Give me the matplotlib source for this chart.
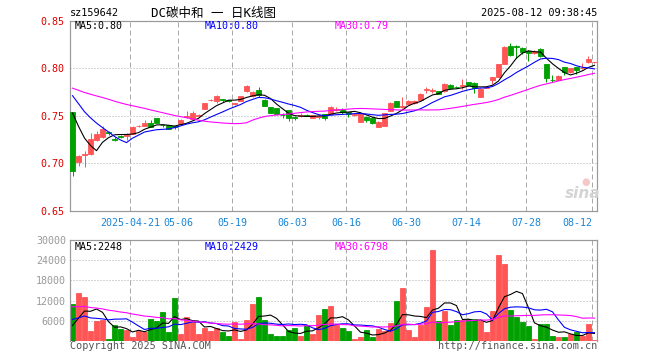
import matplotlib
matplotlib.use('Agg')
import matplotlib.pyplot as plt
import numpy as np
import pandas as pd

plt.rcParams['font.family'] = ['DejaVu Sans Mono', 'Noto Sans CJK SC']

# ---------------- data ----------------
code = 'sz159642'
title = 'DC碳中和 一 日K线图'
timestamp = '2025-08-12 09:38:45'
date_labels = ['2025-04-21', '05-06', '05-19', '06-03', '06-16', '06-30', '07-14', '07-28', '08-12']
date_index = [10, 18, 27, 37, 46, 56, 66, 76, 87]

open_ = [0.754, 0.702, 0.709, 0.710, 0.725, 0.728, 0.7335, 0.7260, 0.7285, 0.7285,
         0.7310, 0.7390, 0.7395, 0.7420, 0.7475, 0.7408, 0.7400, 0.7390, 0.7416, 0.7490,
         0.7465, 0.7500, 0.7574, 0.7663, 0.7651, 0.7672, 0.7662, 0.7628, 0.7660, 0.7756,
         0.7704, 0.7774, 0.7668, 0.7595, 0.7581, 0.7514, 0.7563, 0.7493, 0.7500, 0.7510,
         0.7482, 0.7490, 0.7518, 0.7521, 0.7565, 0.7563, 0.7540, 0.7504, 0.7440, 0.7493,
         0.7482, 0.7388, 0.7398, 0.7553, 0.7651, 0.7590, 0.7623, 0.7633, 0.7668, 0.7770,
         0.7763, 0.7756, 0.7756, 0.7826, 0.7806, 0.7818, 0.7855, 0.7850, 0.7700, 0.7793,
         0.7875, 0.7912, 0.8050, 0.8230, 0.8237, 0.8212, 0.8177, 0.8160, 0.8202, 0.8047,
         0.7882, 0.7879, 0.8012, 0.7956, 0.8012, 0.8000, 0.8061, 0.8065]
close = [0.692, 0.708, 0.710, 0.726, 0.731, 0.736, 0.7325, 0.7250, 0.7275, 0.7310,
         0.7385, 0.7398, 0.7428, 0.7385, 0.7425, 0.7402, 0.7367, 0.7384, 0.7458, 0.7497,
         0.7525, 0.7506, 0.7633, 0.7668, 0.7704, 0.7665, 0.7655, 0.7633, 0.7704, 0.7809,
         0.7749, 0.7714, 0.7605, 0.7535, 0.7518, 0.7505, 0.7475, 0.7478, 0.7510, 0.7502,
         0.7504, 0.7500, 0.7482, 0.7591, 0.7572, 0.7540, 0.7515, 0.7518, 0.7518, 0.7458,
         0.7423, 0.7440, 0.7528, 0.7640, 0.7598, 0.7605, 0.7661, 0.7658, 0.7732, 0.7777,
         0.7770, 0.7730, 0.7830, 0.7791, 0.7802, 0.7824, 0.7822, 0.7788, 0.7785, 0.7808,
         0.7905, 0.8042, 0.8226, 0.8142, 0.8220, 0.8167, 0.8162, 0.8177, 0.8125, 0.7896,
         0.7875, 0.7921, 0.7956, 0.8002, 0.7986, 0.8005, 0.8096, 0.8068]
high = [0.754, 0.709, 0.713, 0.732, 0.734, 0.739, 0.7345, 0.7280, 0.7295, 0.7315,
        0.7390, 0.7405, 0.7458, 0.7460, 0.7478, 0.7410, 0.7402, 0.7395, 0.7462, 0.7553,
        0.7546, 0.7515, 0.7640, 0.7675, 0.7721, 0.7680, 0.7665, 0.7640, 0.7707, 0.7826,
        0.7760, 0.7798, 0.7672, 0.7598, 0.7585, 0.7530, 0.7565, 0.7495, 0.7525, 0.7515,
        0.7508, 0.7510, 0.7520, 0.7600, 0.7590, 0.7580, 0.7545, 0.7522, 0.7525, 0.7498,
        0.7485, 0.7445, 0.7532, 0.7645, 0.7655, 0.7693, 0.7665, 0.7665, 0.7735, 0.7800,
        0.7791, 0.7760, 0.7840, 0.7830, 0.7810, 0.7886, 0.7860, 0.7855, 0.7790, 0.7815,
        0.7910, 0.8045, 0.8230, 0.8265, 0.8240, 0.8220, 0.8195, 0.8190, 0.8212, 0.8050,
        0.7932, 0.7925, 0.8015, 0.8005, 0.8015, 0.8054, 0.8125, 0.8070]
low = [0.687, 0.697, 0.696, 0.709, 0.724, 0.727, 0.7300, 0.7240, 0.7265, 0.7250,
       0.7305, 0.7385, 0.7390, 0.7380, 0.7420, 0.7380, 0.7362, 0.7365, 0.7410, 0.7480,
       0.7460, 0.7490, 0.7570, 0.7655, 0.7633, 0.7650, 0.7645, 0.7610, 0.7651, 0.7750,
       0.7700, 0.7700, 0.7600, 0.7530, 0.7510, 0.7474, 0.7447, 0.7458, 0.7490, 0.7495,
       0.7478, 0.7465, 0.7458, 0.7515, 0.7550, 0.7521, 0.7493, 0.7500, 0.7435, 0.7440,
       0.7418, 0.7380, 0.7395, 0.7550, 0.7594, 0.7585, 0.7620, 0.7625, 0.7665, 0.7745,
       0.7739, 0.7725, 0.7750, 0.7788, 0.7795, 0.7785, 0.7818, 0.7745, 0.7695, 0.7790,
       0.7838, 0.7910, 0.8045, 0.8130, 0.8107, 0.8150, 0.8072, 0.8150, 0.8118, 0.7851,
       0.7861, 0.7875, 0.7925, 0.7950, 0.7944, 0.7995, 0.8055, 0.8060]
volume = [11100, 14400, 13200, 2900, 5900, 6200, 600, 4800, 3500, 3300,
          1200, 3100, 2700, 6500, 5800, 8600, 2600, 12800, 2100, 7100,
          5600, 2000, 4000, 2900, 4000, 2600, 1400, 5600, 600, 6200,
          11000, 13100, 6200, 2000, 1400, 1400, 3200, 3800, 1400, 4700,
          2000, 7700, 9500, 10400, 4700, 3800, 2900, 600, 1100, 3200,
          1100, 3500, 2900, 5300, 11900, 15600, 3200, 1100, 4700, 10100,
          26900, 5900, 8900, 4700, 6200, 6200, 6500, 6500, 5900, 2600,
          8900, 25400, 23000, 9200, 7200, 5600, 4400, 500, 5000, 5000,
          1400, 1100, 1100, 2000, 2600, 1400, 5000, 300]
# sessions before the first visible candle (only feed the moving averages)
prior_close = [0.776, 0.779, 0.781, 0.784, 0.786, 0.788, 0.785, 0.782, 0.780, 0.779,
               0.781, 0.784, 0.787, 0.786, 0.784, 0.782, 0.781, 0.783, 0.785, 0.788,
               0.792, 0.795, 0.790, 0.786, 0.784, 0.778, 0.772, 0.765, 0.758]
prior_volume = [13500, 11000, 12800, 10500, 14000, 12000, 11500, 13000, 9800, 12500,
                11800, 12200, 10900, 13300, 11600, 12400, 10800, 12900, 11700, 12800,
                9500, 7800, 8600, 7200, 7900, 3400, 2700, 3300, 2500]

price_ticks = [0.65, 0.70, 0.75, 0.80, 0.85]
vol_ticks = [6000, 12000, 18000, 24000, 30000]
price_ma_labels = ['0.80', '0.80', '0.79']
vol_ma_labels = ['2248', '2429', '6798']
ma_windows = [5, 10, 30]

# ---------------- styles ----------------
W, H = 660, 360
RED = '#ff5555'
GREEN = '#00a000'
MA_COLORS = ['#000000', '#0000ff', '#ff00ff']
GRID = '#aaaaaa'
FRAME = '#999999'
PX = 72 / 100  # one pixel in points

n = len(close)
x = np.arange(n)
o = np.array(open_); c = np.array(close); h = np.array(high); l = np.array(low)
v = np.array(volume)
up = c >= o
cols = np.where(up, RED, GREEN)

cs = pd.Series(prior_close + close)
vs = pd.Series(prior_volume + volume)
np_ = len(prior_close)
price_ma = [cs.rolling(w).mean().iloc[np_:].to_numpy() for w in ma_windows]
vol_ma = [vs.rolling(w).mean().iloc[np_:].to_numpy() for w in ma_windows]

fig = plt.figure(figsize=(W / 100, H / 100), dpi=100)
fig.patch.set_facecolor('white')

ax = fig.add_axes([70 / W, (H - 211) / H, 527 / W, (211 - 20.7) / H])
axv = fig.add_axes([70 / W, (H - 341) / H, 527 / W, 101 / H])

xlim = (-0.42, n - 1 + 0.42)
tick_pos = [i - 0.42 for i in date_index]

for a in (ax, axv):
    a.set_xlim(*xlim)
    for s in a.spines.values():
        s.set_color(FRAME)
        s.set_linewidth(PX * 1.2)
    a.tick_params(length=0)
    a.vlines(tick_pos, 0, 1, transform=a.get_xaxis_transform(), colors=GRID,
             linewidth=PX, linestyles=(0, (5, 3)), zorder=0)
axv.spines['bottom'].set_visible(False)

# ---- price panel ----
ax.set_ylim(0.65, 0.85)
for yv in price_ticks[1:-1]:
    ax.axhline(yv, color=GRID, linewidth=PX, linestyle=(0, (1, 2)), zorder=0)
ax.vlines(x, l, h, colors=cols, linewidth=PX, zorder=2)
ax.bar(x, np.abs(c - o), bottom=np.minimum(o, c), width=0.72, color=cols,
       edgecolor=cols, linewidth=0.6, zorder=3)
for ma, col in zip(price_ma, MA_COLORS):
    ax.plot(x, ma, color=col, linewidth=PX * 1.1, zorder=4)

ax.set_yticks(price_ticks)
ax.set_yticklabels(['%.2f' % t for t in price_ticks], color='#e00000', fontsize=7.2)
ax.tick_params(axis='y', pad=4)
ax.set_xticks(tick_pos)
ax.set_xticklabels(date_labels, color='#1a85d6', fontsize=7.2)
ax.tick_params(axis='x', pad=5)
ax.get_xticklabels()[-1].set_ha('right')

# ---- volume panel ----
axv.set_ylim(0, 30000)
for yv in vol_ticks[:-1]:
    axv.axhline(yv, color=GRID, linewidth=PX, linestyle=(0, (1, 2)), zorder=0)
axv.bar(x, v, width=0.72, color=cols, edgecolor=cols, linewidth=0.6, zorder=2)
for ma, col in zip(vol_ma, MA_COLORS):
    axv.plot(x, ma, color=col, linewidth=PX * 1.1, zorder=4)
axv.set_yticks(vol_ticks)
axv.set_yticklabels([str(t) for t in vol_ticks], color='#999999', fontsize=7.2)
axv.tick_params(axis='y', pad=3)
axv.set_xticks([])

# ---- texts ----
def ftext(px, py, s, **kw):
    fig.text(px / W, 1 - py / H, s, **kw)

ftext(70, 13, code, fontsize=7.4, color='#000000', va='center', ha='left')
ftext(213.5, 13, title, fontsize=9, color='#000000', va='center', ha='center')
ftext(597, 13, timestamp, fontsize=7.4, color='#000000', va='center', ha='right')

names = ['MA5', 'MA10', 'MA30']
xs = [75, 205, 335]
for nm, lab, col, px in zip(names, price_ma_labels, MA_COLORS, xs):
    ftext(px, 26, '%s:%s' % (nm, lab), fontsize=7.2, color=col, va='center', ha='left')
for nm, lab, col, px in zip(names, vol_ma_labels, MA_COLORS, xs):
    ftext(px, 246.5, '%s:%s' % (nm, lab), fontsize=7.2, color=col, va='center', ha='left')

ftext(70, 346, 'Copyright 2025 SINA.COM', fontsize=7.3, color='#555555', va='center', ha='left')
ftext(597, 346, 'http://finance.sina.com.cn', fontsize=7.3, color='#555555', va='center', ha='right')

# watermark
ftext(583, 194, 'sina', fontsize=11, color='#d4d4d4', va='center', ha='center',
      fontweight='bold', style='italic', family='DejaVu Sans')
ftext(586, 182, '●', fontsize=7, color='#f4c8c8', va='center', ha='center', family='DejaVu Sans')

fig.savefig('out.png', dpi=100, facecolor='white')
